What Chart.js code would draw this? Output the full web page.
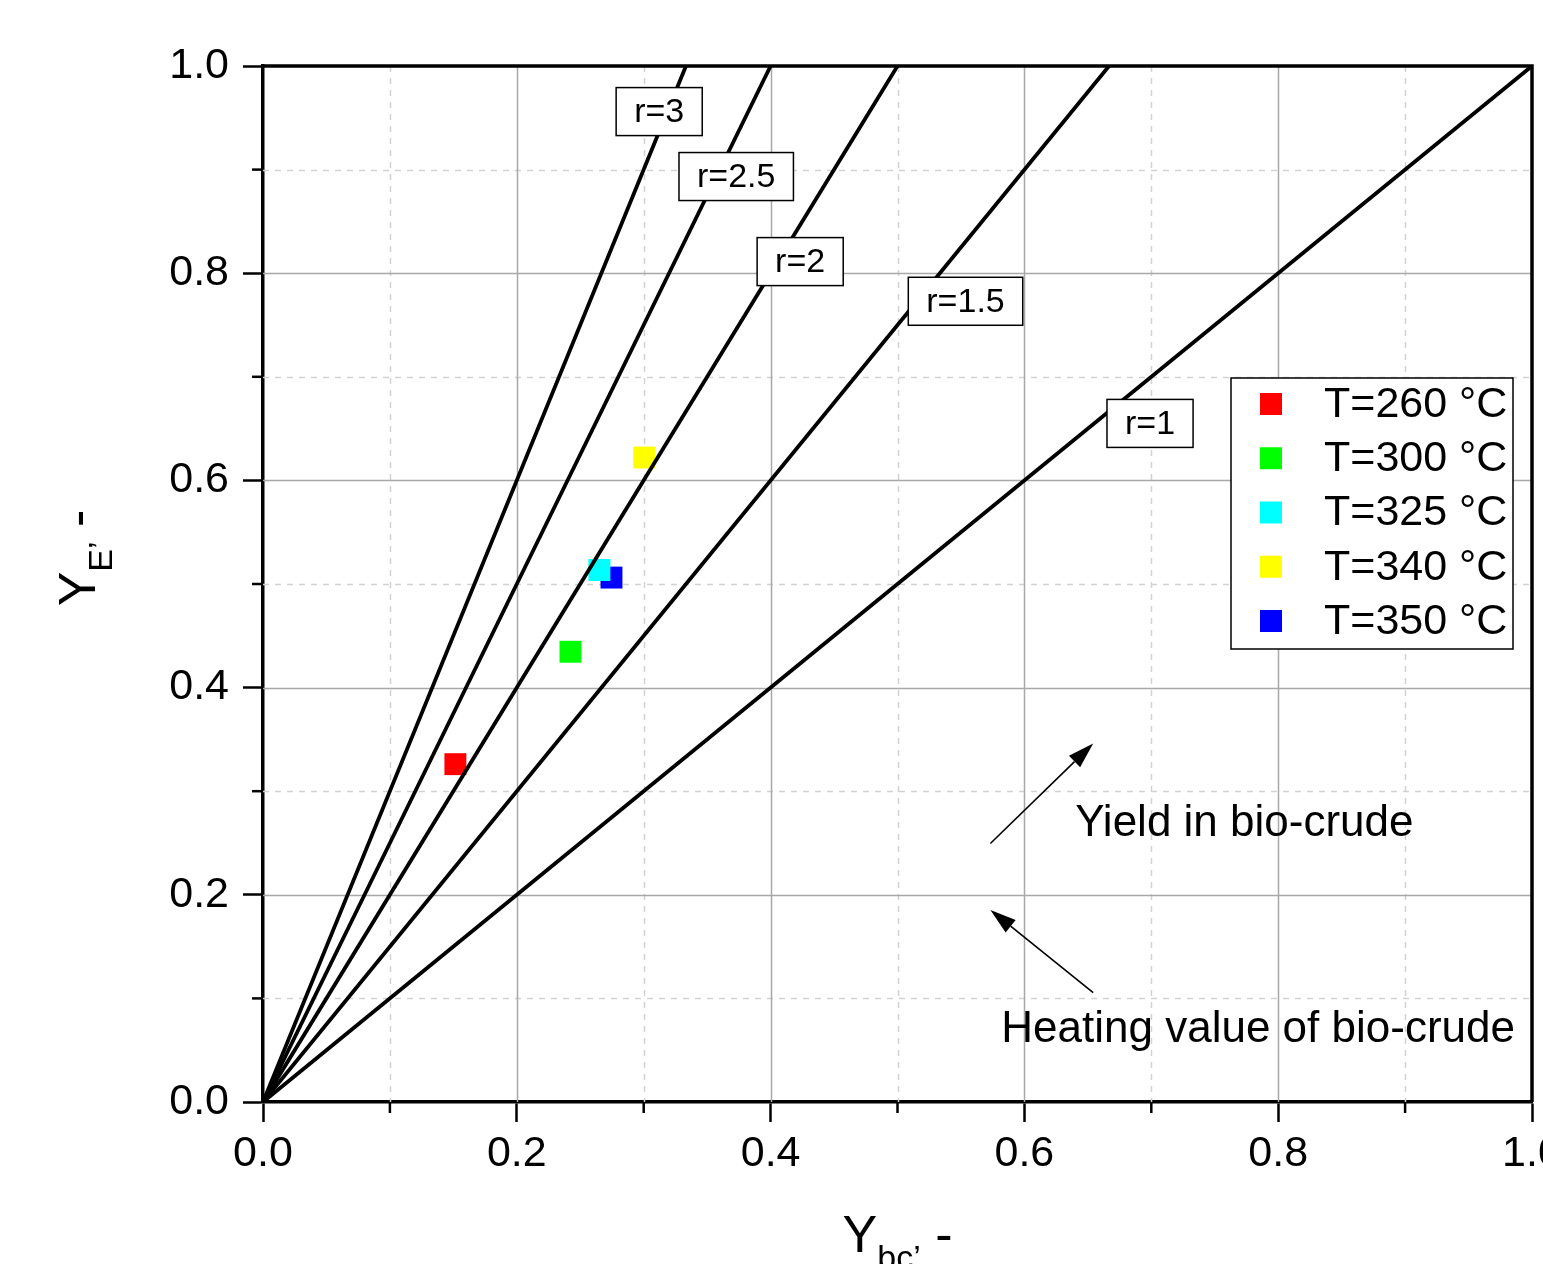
<!DOCTYPE html>
<html>
<head>
<meta charset="utf-8">
<script src="https://cdn.jsdelivr.net/npm/chart.js@4"></script>
<style>
  html, body { margin: 0; padding: 0; background: #fff; overflow: hidden; }
  #wrap { width: 1543px; height: 1264px; }
  canvas { display: block; }
</style>
</head>
<body>
<div id="wrap"><canvas id="c" width="1543" height="1264"></canvas></div>
<script>
// ---- data ----
const seriesLabels = ['T=260 °C', 'T=300 °C', 'T=325 °C', 'T=340 °C', 'T=350 °C'];
const seriesColors = ['#ff0000', '#00ff00', '#00ffff', '#ffff00', '#0000ff'];
const pointX = [0.1516, 0.2423, 0.2651, 0.3004, 0.2746];
const pointY = [0.3261, 0.4346, 0.5135, 0.6221, 0.5062];

const ratioLabels = ['r=1', 'r=1.5', 'r=2', 'r=2.5', 'r=3'];
const lineEndX = [1.0, 0.6667, 0.5, 0.4, 0.3333];
const lineEndY = [1.0, 1.0, 1.0, 1.0, 1.0];
const ratioLabelX = [0.699, 0.5536, 0.4233, 0.3729, 0.3122];
const ratioLabelY = [0.655, 0.7729, 0.8112, 0.8933, 0.956];

const annotTexts = ['Yield in bio-crude', 'Heating value of bio-crude'];
const annotTextX = [0.640, 0.5818];
const annotTextY = [0.2569, 0.0579];
const arrowFromX = [0.5732, 0.6542];
const arrowFromY = [0.2495, 0.1055];
const arrowToX = [0.6542, 0.5732];
const arrowToY = [0.3461, 0.1854];

const tickValues = [0, 0.2, 0.4, 0.6, 0.8, 1.0];
const minorValues = [0.1, 0.3, 0.5, 0.7, 0.9];

const FONT = '"Liberation Sans", Arial, sans-serif';

// ---- datasets ----
const datasets = [];
lineEndX.forEach((ex, i) => {
  datasets.push({
    label: ratioLabels[i],
    data: [{x: 0, y: 0}, {x: ex, y: lineEndY[i]}],
    showLine: true, borderColor: '#000', borderWidth: 3.8,
    pointRadius: 0, pointHoverRadius: 0, fill: false
  });
});
seriesLabels.forEach((lab, i) => {
  datasets.push({
    label: lab,
    data: [{x: pointX[i], y: pointY[i]}],
    showLine: false, pointStyle: 'rect', pointRadius: 15.5, pointHoverRadius: 15.5,
    backgroundColor: seriesColors[i], borderColor: seriesColors[i], borderWidth: 0
  });
});

// ---- plugin ----
const custom = {
  id: 'custom',
  beforeDatasetsDraw(chart) {
    const {ctx, chartArea: a, scales: {x, y}} = chart;
    ctx.save();
    ctx.lineWidth = 1.5;
    ctx.strokeStyle = '#d2d2d2';
    ctx.setLineDash([6, 6]);
    minorValues.forEach(v => {
      const px = Math.round(x.getPixelForValue(v)) + 0.5;
      ctx.beginPath(); ctx.moveTo(px, a.top); ctx.lineTo(px, a.bottom); ctx.stroke();
      const py = Math.round(y.getPixelForValue(v)) + 0.5;
      ctx.beginPath(); ctx.moveTo(a.left, py); ctx.lineTo(a.right, py); ctx.stroke();
    });
    ctx.setLineDash([]);
    ctx.strokeStyle = '#a8a8a8';
    tickValues.forEach(v => {
      if (v === 0 || v === 1) return;
      const px = Math.round(x.getPixelForValue(v)) + 0.5;
      ctx.beginPath(); ctx.moveTo(px, a.top); ctx.lineTo(px, a.bottom); ctx.stroke();
      const py = Math.round(y.getPixelForValue(v)) + 0.5;
      ctx.beginPath(); ctx.moveTo(a.left, py); ctx.lineTo(a.right, py); ctx.stroke();
    });
    ctx.restore();
  },
  afterDatasetsDraw(chart) {
    const {ctx, chartArea: a, scales: {x, y}} = chart;
    ctx.save();
    ctx.strokeStyle = '#000';
    ctx.lineWidth = 3.5;
    ctx.beginPath();
    ctx.moveTo(a.left, a.top); ctx.lineTo(a.right, a.top); ctx.lineTo(a.right, a.bottom);
    ctx.stroke();

    ctx.lineWidth = 2.5;
    minorValues.forEach(v => {
      const px = x.getPixelForValue(v);
      ctx.beginPath(); ctx.moveTo(px, a.bottom); ctx.lineTo(px, a.bottom + 11); ctx.stroke();
      const py = y.getPixelForValue(v);
      ctx.beginPath(); ctx.moveTo(a.left, py); ctx.lineTo(a.left - 11, py); ctx.stroke();
    });

    ctx.font = '34px ' + FONT;
    ctx.textAlign = 'center';
    ctx.textBaseline = 'middle';
    ratioLabels.forEach((t, i) => {
      const cx = x.getPixelForValue(ratioLabelX[i]);
      const cy = y.getPixelForValue(ratioLabelY[i]);
      const w = ctx.measureText(t).width + 36;
      const h = 48;
      ctx.fillStyle = '#fff';
      ctx.fillRect(cx - w / 2, cy - h / 2, w, h);
      ctx.strokeStyle = '#000';
      ctx.lineWidth = 1.5;
      ctx.strokeRect(cx - w / 2, cy - h / 2, w, h);
      ctx.fillStyle = '#000';
      ctx.fillText(t, cx, cy + 1);
    });

    ctx.strokeStyle = '#000';
    ctx.fillStyle = '#000';
    ctx.lineWidth = 1.6;
    arrowFromX.forEach((fx, i) => {
      const x0 = x.getPixelForValue(fx), y0 = y.getPixelForValue(arrowFromY[i]);
      const x1 = x.getPixelForValue(arrowToX[i]), y1 = y.getPixelForValue(arrowToY[i]);
      const ang = Math.atan2(y1 - y0, x1 - x0);
      const hl = 26, hw = 8;
      const bx = x1 - hl * Math.cos(ang), by = y1 - hl * Math.sin(ang);
      ctx.beginPath(); ctx.moveTo(x0, y0); ctx.lineTo(bx, by); ctx.stroke();
      ctx.beginPath();
      ctx.moveTo(x1, y1);
      ctx.lineTo(bx + hw * Math.sin(ang), by - hw * Math.cos(ang));
      ctx.lineTo(bx - hw * Math.sin(ang), by + hw * Math.cos(ang));
      ctx.closePath(); ctx.fill();
    });

    ctx.font = '44px ' + FONT;
    ctx.textAlign = 'left';
    ctx.textBaseline = 'alphabetic';
    annotTexts.forEach((t, i) => {
      ctx.fillText(t, x.getPixelForValue(annotTextX[i]), y.getPixelForValue(annotTextY[i]));
    });

    const bw = 282, bh = 271;
    const bx = a.right - 19 - bw, by = a.top + 312;
    ctx.fillStyle = '#fff';
    ctx.fillRect(bx, by, bw, bh);
    ctx.strokeStyle = '#000';
    ctx.lineWidth = 1.5;
    ctx.strokeRect(bx, by, bw, bh);
    ctx.font = '43px ' + FONT;
    ctx.textBaseline = 'middle';
    seriesLabels.forEach((t, i) => {
      const cy = by + 26 + i * 54.25;
      ctx.fillStyle = seriesColors[i];
      ctx.fillRect(bx + 29, cy - 11, 22, 22);
      ctx.fillStyle = '#000';
      ctx.fillText(t, bx + 93, cy + 1);
    });
    ctx.restore();
  },
  afterDraw(chart) {
    const {ctx, chartArea: a} = chart;
    ctx.save();
    ctx.fillStyle = '#000';
    ctx.textBaseline = 'alphabetic';
    ctx.textAlign = 'left';
    const big = '52px ' + FONT, small = '34px ' + FONT;
    ctx.font = big;
    const wY = ctx.measureText('Y').width;
    ctx.font = small;
    const wSub = ctx.measureText('bc’').width;
    ctx.font = big;
    const wDash = ctx.measureText(' -').width;
    let total = wY + wSub + wDash;
    let sx = (a.left + a.right) / 2 - total / 2;
    const base = 1252;
    ctx.font = big; ctx.fillText('Y', sx, base);
    ctx.font = small; ctx.fillText('bc’', sx + wY, base + 17);
    ctx.font = big; ctx.fillText(' -', sx + wY + wSub, base);

    ctx.save();
    ctx.translate(95, 558);
    ctx.rotate(-Math.PI / 2);
    ctx.font = small;
    const wSubE = ctx.measureText('E’').width;
    total = wY + wSubE + wDash;
    sx = -total / 2;
    ctx.font = big; ctx.fillText('Y', sx, 0);
    ctx.font = small; ctx.fillText('E’', sx + wY, 17);
    ctx.font = big; ctx.fillText(' -', sx + wY + wSubE, 0);
    ctx.restore();
    ctx.restore();
  }
};

const axisBase = () => ({
  type: 'linear', min: 0, max: 1,
  ticks: {
    stepSize: 0.2, color: '#000', font: {family: FONT, size: 43},
    callback: v => Number(v).toFixed(1)
  },
  grid: { drawOnChartArea: false, drawTicks: true, tickLength: 20, tickWidth: 2.5, tickColor: '#000' },
  border: { display: true, color: '#000', width: 3.5 }
});

const xAxis = axisBase();
xAxis.position = 'bottom';
xAxis.ticks.padding = 6;
xAxis.ticks.maxRotation = 0;
xAxis.afterFit = s => { s.height = 162; s.paddingLeft = 0; s.paddingRight = 0; };

const yAxis = axisBase();
yAxis.position = 'left';
yAxis.ticks.padding = 14;
yAxis.afterFit = s => { s.width = 263; s.paddingTop = 0; s.paddingBottom = 0; };

new Chart(document.getElementById('c'), {
  type: 'scatter',
  data: { datasets },
  options: {
    responsive: false,
    animation: false,
    layout: { autoPadding: false, padding: { top: 66, right: 11, left: 0, bottom: 0 } },
    plugins: { legend: { display: false }, tooltip: { enabled: false } },
    scales: { x: xAxis, y: yAxis }
  },
  plugins: [custom]
});
</script>
</body>
</html>
